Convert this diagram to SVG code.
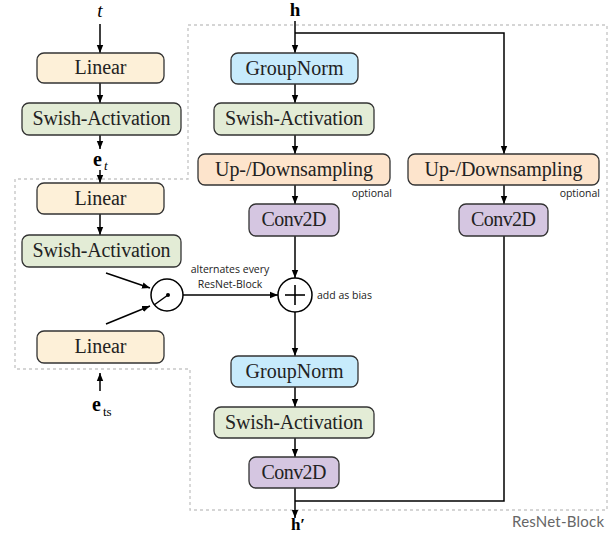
<svg xmlns="http://www.w3.org/2000/svg" width="616" height="535" viewBox="0 0 616 535">
<defs>
<marker id="ah" viewBox="0 0 10 10" refX="10" refY="5" markerWidth="8" markerHeight="8" markerUnits="userSpaceOnUse" orient="auto">
<path d="M0,1 L10,5 L0,9 Z" fill="#000"/>
</marker>
<style>
.box{stroke:#333;stroke-width:1.3}
.lin{fill:#fdf0d8}
.sw{fill:#e3ecd6}
.gn{fill:#c7ebfc}
.ud{fill:#fde4cc}
.cv{fill:#d5c6e1}
.lbl{font-family:"Liberation Serif","Times New Roman",serif;font-size:20px;fill:#222;text-anchor:middle}
.math{font-family:"Liberation Serif","Times New Roman",serif;fill:#000}
.small{font-family:"Open Sans","Lato",sans-serif;font-size:10.5px;fill:#222}
.ln{stroke:#000;stroke-width:1.5;fill:none}
.arr{stroke:#000;stroke-width:1.5;fill:none;marker-end:url(#ah)}
</style>
</defs>
<rect width="616" height="535" fill="#fff"/>
<path d="M188,25 H607 V510 H190 V369 H15 V179 H188 Z" fill="none" stroke="#c8c8c8" stroke-width="1.4" stroke-dasharray="3,3"/>
<text x="604" y="527" font-family="Lato,'Open Sans',sans-serif" font-size="15" fill="#666" text-anchor="end" textLength="92">ResNet-Block</text>

<g id="connectors">
<line class="arr" x1="100" y1="24" x2="100" y2="53"/>
<line class="arr" x1="100" y1="83" x2="100" y2="103"/>
<line class="arr" x1="100" y1="135" x2="100" y2="149"/>
<line class="arr" x1="100" y1="170" x2="100" y2="183"/>
<line class="arr" x1="100" y1="214" x2="100" y2="235"/>
<line class="arr" x1="100" y1="391" x2="100" y2="373"/>
<line class="arr" x1="106" y1="273" x2="150" y2="288"/>
<line class="arr" x1="106" y1="324" x2="150" y2="306"/>
<line class="arr" x1="168" y1="295" x2="278" y2="295"/>
<line class="arr" x1="295" y1="21" x2="295" y2="53"/>
<polyline class="arr" points="295,33 504,33 504,154"/>
<line class="arr" x1="295" y1="84" x2="295" y2="103"/>
<line class="arr" x1="295" y1="135" x2="295" y2="154"/>
<line class="arr" x1="295" y1="185" x2="295" y2="204"/>
<line class="arr" x1="295" y1="236" x2="295" y2="278"/>
<line class="arr" x1="295" y1="312" x2="295" y2="356"/>
<line class="arr" x1="295" y1="387" x2="295" y2="407"/>
<line class="arr" x1="295" y1="438" x2="295" y2="457"/>
<line class="arr" x1="295" y1="488" x2="295" y2="518"/>
<line class="arr" x1="504" y1="185" x2="504" y2="204"/>
<polyline class="ln" points="504,236 504,501 295,501"/>
</g>

<g id="t-label"><text class="math" x="100" y="17" font-size="19" font-style="italic" text-anchor="middle">t</text></g>
<g id="h-label"><text class="math" x="295" y="16" font-size="19" font-weight="bold" text-anchor="middle">h</text></g>
<g id="hprime-label"><text class="math" x="298" y="530" font-size="17" font-weight="bold" text-anchor="middle">h′</text></g>
<g id="et-label"><text class="math" x="93" y="166" font-size="20" font-weight="bold">e</text><text class="math" x="104" y="170" font-size="13" font-style="italic">t</text></g>
<g id="ets-label"><text class="math" x="92" y="411" font-size="20" font-weight="bold">e</text><text class="math" x="103" y="416" font-size="13">ts</text></g>

<g id="linear1"><rect class="box lin" x="37" y="53" width="127" height="30" rx="7"/><text class="lbl" x="100.5" y="74" textLength="52">Linear</text></g>
<g id="swish1"><rect class="box sw" x="22" y="103" width="159" height="32" rx="7"/><text class="lbl" x="101.5" y="125" textLength="138">Swish-Activation</text></g>
<g id="linear2"><rect class="box lin" x="37" y="183" width="127" height="31" rx="7"/><text class="lbl" x="100.5" y="205" textLength="52">Linear</text></g>
<g id="swish2"><rect class="box sw" x="22" y="235" width="159" height="32" rx="7"/><text class="lbl" x="101.5" y="257" textLength="138">Swish-Activation</text></g>
<g id="linear3"><rect class="box lin" x="37" y="331" width="127" height="32" rx="7"/><text class="lbl" x="100.5" y="353" textLength="52">Linear</text></g>

<g id="switch">
<circle cx="167" cy="295" r="16" fill="#fff" stroke="#000" stroke-width="1.5"/>
<line x1="168" y1="295" x2="154" y2="305" stroke="#000" stroke-width="1.5"/>
<circle cx="168" cy="295" r="2" fill="#000"/>
</g>
<g id="switch-label">
<text class="small" x="230" y="273" text-anchor="middle">alternates every</text>
<text class="small" x="230" y="288" text-anchor="middle">ResNet-Block</text>
</g>
<g id="plus">
<circle cx="295" cy="295" r="17" fill="#fff" stroke="#000" stroke-width="1.5"/>
<line x1="285" y1="295" x2="305" y2="295" stroke="#000" stroke-width="1.6"/>
<line x1="295" y1="285" x2="295" y2="305" stroke="#000" stroke-width="1.6"/>
</g>
<g id="plus-label"><text class="small" x="317" y="299">add as bias</text></g>

<g id="groupnorm1"><rect class="box gn" x="231" y="53" width="127" height="31" rx="7"/><text class="lbl" x="294.5" y="75" textLength="98">GroupNorm</text></g>
<g id="swish3"><rect class="box sw" x="214" y="103" width="160" height="32" rx="7"/><text class="lbl" x="294" y="125" textLength="138">Swish-Activation</text></g>
<g id="updown1"><rect class="box ud" x="198" y="154" width="192" height="31" rx="7"/><text class="lbl" x="294" y="176" textLength="158">Up-/Downsampling</text><text class="small" x="392" y="197" text-anchor="end" font-size="10">optional</text></g>
<g id="conv1"><rect class="box cv" x="249" y="204" width="90" height="32" rx="7"/><text class="lbl" x="294" y="226" textLength="65">Conv2D</text></g>
<g id="updown2"><rect class="box ud" x="408" y="154" width="191" height="31" rx="7"/><text class="lbl" x="503.5" y="176" textLength="158">Up-/Downsampling</text><text class="small" x="600" y="197" text-anchor="end" font-size="10">optional</text></g>
<g id="conv2"><rect class="box cv" x="459" y="204" width="89" height="32" rx="7"/><text class="lbl" x="503.5" y="226" textLength="65">Conv2D</text></g>
<g id="groupnorm2"><rect class="box gn" x="231" y="356" width="127" height="31" rx="7"/><text class="lbl" x="294.5" y="378" textLength="98">GroupNorm</text></g>
<g id="swish4"><rect class="box sw" x="214" y="407" width="160" height="31" rx="7"/><text class="lbl" x="294" y="429" textLength="138">Swish-Activation</text></g>
<g id="conv3"><rect class="box cv" x="249" y="457" width="90" height="31" rx="7"/><text class="lbl" x="294" y="479" textLength="65">Conv2D</text></g>
</svg>
